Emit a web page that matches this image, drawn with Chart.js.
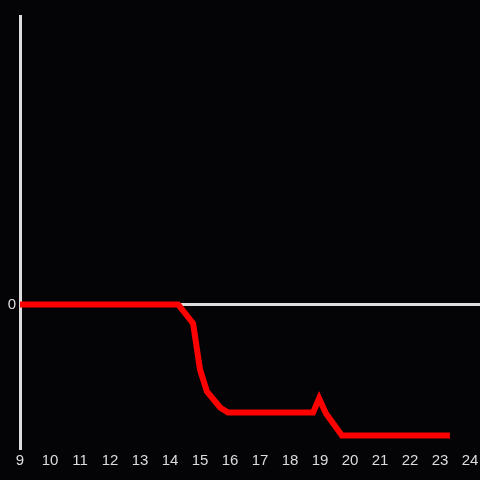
<!DOCTYPE html>
<html><head><meta charset="utf-8">
<script src="https://cdn.jsdelivr.net/npm/chart.js@4"></script>
<style>html,body{margin:0;padding:0;background:#040306;}#wrap{width:480px;height:480px;}</style>
</head><body><div id="wrap"><canvas id="c" width="480" height="480"></canvas></div>
<script>
const xValues = [9, 14.27, 14.77, 15.0, 15.23, 15.67, 15.93, 18.77, 18.97, 19.2, 19.73, 23.33];
const yValues = [0, 0, -19, -65, -87, -103, -108, -108, -94, -109, -131, -131];
const xTicks = [9,10,11,12,13,14,15,16,17,18,19,20,21,22,23,24];
const yTicks = [0];

const pts = xValues.map((x,i)=>({x:x,y:yValues[i]}));
new Chart(document.getElementById('c'), {
  type: 'line',
  data: { datasets: [{ data: pts, borderColor: '#ff0000', borderWidth: 6, pointRadius: 0, tension: 0, fill: false }] },
  options: {
    responsive: false, animation: false,
    layout: { padding: { top: 16, right: 0, left: 0, bottom: 0 } },
    plugins: { legend: { display: false }, tooltip: { enabled: false } },
    scales: {
      x: {
        type: 'linear', min: 9, max: 24.333,
        afterBuildTicks: s => { s.ticks = xTicks.map(v => ({ value: v })); },
        afterFit: s => { s.height = 32; s.paddingLeft = 0; s.paddingRight = 0; },
        grid: { display: false, drawTicks: false },
        border: { display: false },
        ticks: { color: '#dddddd', font: { family: 'Liberation Sans, Arial, sans-serif', size: 15 }, padding: 4, maxRotation: 0, autoSkip: false }
      },
      y: {
        type: 'linear', min: -143.5, max: 288.5,
        afterBuildTicks: s => { s.ticks = yTicks.map(v => ({ value: v })); },
        afterFit: s => { s.width = 20; s.paddingTop = 0; s.paddingBottom = 0; },
        grid: { display: true, drawTicks: false, color: c => (c.tick && c.tick.value === 0) ? '#dddddd' : 'rgba(0,0,0,0)', lineWidth: 3 },
        border: { display: true, color: '#dddddd', width: 3 },
        ticks: { color: '#dddddd', font: { family: 'Liberation Sans, Arial, sans-serif', size: 15 }, padding: 4 }
      }
    }
  },
  plugins: [{ id: 'bg', beforeDraw: ch => { const c = ch.ctx; c.save(); c.fillStyle = '#040306'; c.fillRect(0,0,ch.width,ch.height); c.restore(); } }]
});
</script></body></html>
